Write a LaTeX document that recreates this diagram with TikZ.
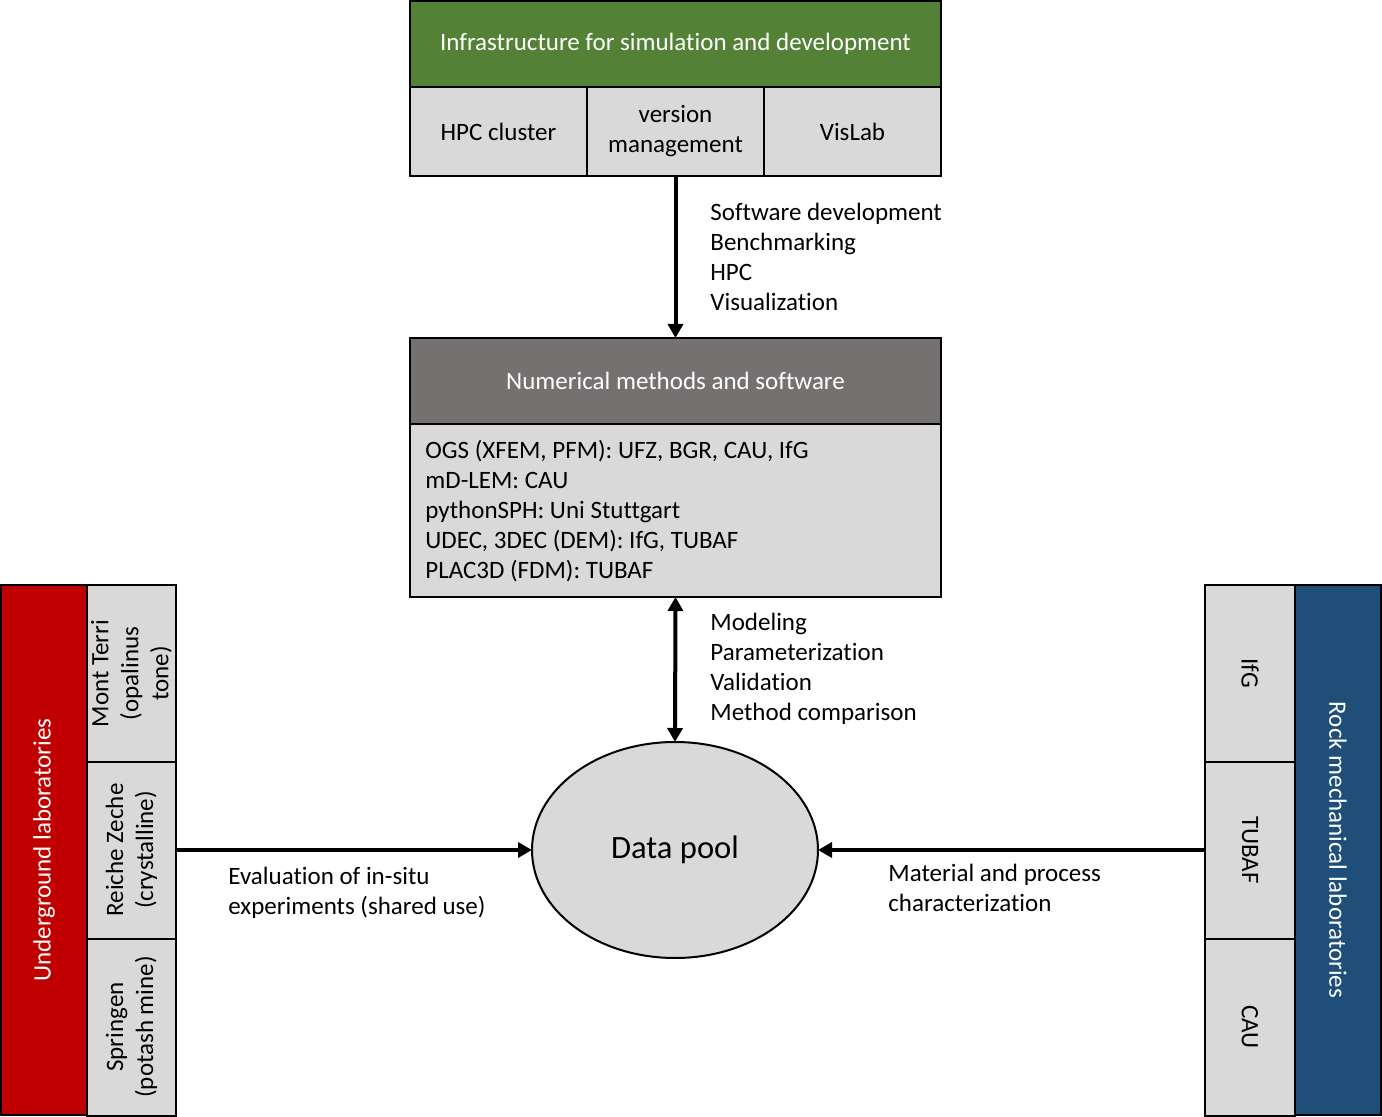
\documentclass[tikz,border=0pt]{standalone}
\usepackage{fontspec}
\setmainfont{Carlito}[Ligatures=CommonOff]
\usetikzlibrary{arrows.meta,shapes.geometric}
\definecolor{cgreen}{HTML}{538135}
\definecolor{cdgray}{HTML}{767171}
\definecolor{clgray}{HTML}{D9D9D9}
\definecolor{cred}{HTML}{C00000}
\definecolor{cblue}{HTML}{1F4E79}
\begin{document}
\begin{tikzpicture}[x=0.5pt,y=-0.5pt,
  txt/.style={font=\fontsize{12.5}{15}\selectfont},
  box/.style={draw=black, line width=1pt, inner sep=0pt, outer sep=0pt, txt, align=center},
  cell/.style={box, fill=clgray},
  lbl/.style={txt, inner sep=0pt, align=left, anchor=west},
  arr/.style={line width=2pt, -{Triangle[length=7pt,width=7.5pt]}},
  darr/.style={line width=2pt, {Triangle[length=7pt,width=7.5pt]}-{Triangle[length=7pt,width=7.5pt]}}]
\useasboundingbox (0,0) rectangle (1382,1117);
% infrastructure
\node[box, fill=cgreen, text=white, minimum width=265.5pt, minimum height=43pt] (infra) at (675.5,44) {Infrastructure for simulation and development};
\node[cell, minimum width=88.5pt, minimum height=44.5pt] (c1) at (498.5,131.5) {HPC cluster};
\node[cell, minimum width=88.5pt, minimum height=44.5pt] (c2) at (675.5,131.5) {version\\management};
\node[cell, minimum width=88.5pt, minimum height=44.5pt] (c3) at (852.5,131.5) {VisLab};
% numerical
\node[box, fill=cdgray, text=white, minimum width=265.5pt, minimum height=43pt] (numh) at (675.5,381) {Numerical methods and software};
\node[cell, minimum width=265.5pt, minimum height=86.5pt] (numb) at (675.5,510.5) {};
\node[lbl] (numt) at (425,511) {OGS (XFEM, PFM): UFZ, BGR, CAU, IfG\\mD-LEM: CAU\\pythonSPH: Uni Stuttgart\\UDEC, 3DEC (DEM): IfG, TUBAF\\PLAC3D (FDM): TUBAF};
% data pool
\node[ellipse, draw=black, line width=1pt, fill=clgray, minimum width=143pt, minimum height=108pt, inner sep=0pt, outer sep=0pt, font=\fontsize{16.3}{19}\selectfont] (pool) at (675,850) {Data pool};
% left
\node[box, fill=cred, minimum width=43pt, minimum height=265pt] (ul) at (44,850) {};
\node[txt, rotate=90, text=white] (ult) at (ul.center) {Underground laboratories};
\node[cell, minimum width=44.5pt, minimum height=88.5pt] (l1) at (131.5,673.5) {};
\node[cell, minimum width=44.5pt, minimum height=88.5pt] (l2) at (131.5,850) {};
\node[cell, minimum width=44.5pt, minimum height=88.5pt] (l3) at (131.5,1027) {};
\node[txt, rotate=90, align=center] (l1t) at (l1.center) {Mont Terri\\(opalinus\\tone)};
\node[txt, rotate=90, align=center] (l2t) at (l2.center) {Reiche Zeche\\(crystalline)};
\node[txt, rotate=90, align=center] (l3t) at (l3.center) {Springen\\(potash mine)};
% right
\node[box, fill=cblue, minimum width=43pt, minimum height=265pt] (rl) at (1338,850) {};
\node[txt, rotate=-90, text=white] (rlt) at (rl.center) {Rock mechanical laboratories};
\node[cell, minimum width=45pt, minimum height=88.5pt] (r1) at (1250,673.5) {};
\node[cell, minimum width=45pt, minimum height=88.5pt] (r2) at (1250,850) {};
\node[cell, minimum width=45pt, minimum height=88.5pt] (r3) at (1250,1027) {};
\node[txt, rotate=-90] (r1t) at (r1.center) {IfG};
\node[txt, rotate=-90] (r2t) at (r2.center) {TUBAF};
\node[txt, rotate=-90] (r3t) at (r3.center) {CAU};
% connectors
\draw[arr] (c2.south) -- (numh.north);
\draw[darr] (numb.south) -- (pool.north);
\draw[arr] (l2.east) -- (pool.west);
\draw[arr] (r2.west) -- (pool.east);
% labels
\node[lbl] (lab1) at (710,257) {Software development\\Benchmarking\\HPC\\Visualization};
\node[lbl] (lab2) at (710,669) {Modeling\\Parameterization\\Validation\\Method comparison};
\node[lbl] (lab3) at (228,893) {Evaluation of in-situ\\experiments (shared use)};
\node[lbl] (lab4) at (888,888) {Material and process\\characterization};
\end{tikzpicture}
\end{document}
